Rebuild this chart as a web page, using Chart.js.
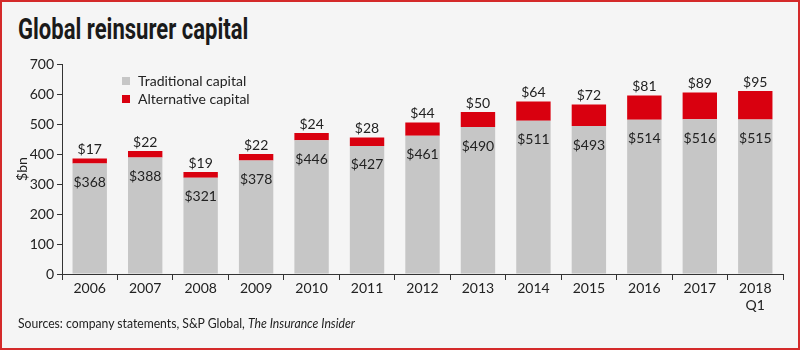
<!DOCTYPE html>
<html lang="en">

<head>
    <meta charset="UTF-8">
    <title>Global reinsurer capital</title>
    <script src="https://cdn.jsdelivr.net/npm/chart.js"></script>
    <style>
        html, body { margin: 0; padding: 0; background: #f5f5f5; }
        #frame {
            position: relative; width: 800px; height: 350px; box-sizing: border-box;
            border: 2px solid #d42a2a; background: #f5f5f5; overflow: hidden;
        }
        #title {
            position: absolute; left: 16px; top: 10px; margin: 0; white-space: nowrap;
            font: bold 29px Roboto, sans-serif; color: #1a1a1a;
            transform: scaleX(0.76); transform-origin: left top;
        }
        #source {
            position: absolute; left: 16px; top: 312px; white-space: nowrap;
            font: 14px Lato, sans-serif; color: #222;
            transform: scaleX(0.87); transform-origin: left top;
        }
        canvas { position: absolute; left: -2px; top: -2px; }
    </style>
</head>

<body>
    <div id="frame">
        <h1 id="title">Global reinsurer capital</h1>
        <canvas id="capitalChart" width="800" height="350"></canvas>
        <div id="source">Sources: company statements, S&amp;P Global, <i>The Insurance Insider</i></div>
    </div>

    <script>
        // values, $bn
        const years = [['2006'], ['2007'], ['2008'], ['2009'], ['2010'], ['2011'], ['2012'],
            ['2013'], ['2014'], ['2015'], ['2016'], ['2017'], ['2018', 'Q1']];
        const traditional = [368, 388, 321, 378, 446, 427, 461, 490, 511, 493, 514, 516, 515];
        const alternative = [17, 22, 19, 22, 24, 28, 44, 50, 64, 72, 81, 89, 95];
        const yTicks = [0, 100, 200, 300, 400, 500, 600, 700];

        const GREY = '#c6c6c6';
        const RED = '#d9000f';
        const FONT = 'Lato, "Open Sans", sans-serif';

        // dollar labels: inside the grey bar, above the red bar
        const barLabels = {
            id: 'barLabels',
            afterDatasetsDraw(chart) {
                const ctx = chart.ctx;
                ctx.save();
                ctx.font = '14px ' + FONT;
                ctx.fillStyle = '#222';
                ctx.textAlign = 'center';
                chart.data.datasets.forEach((ds, i) => {
                    chart.getDatasetMeta(i).data.forEach((bar, j) => {
                        const txt = '$' + ds.data[j];
                        if (i === 0) {
                            ctx.textBaseline = 'top';
                            ctx.fillText(txt, bar.x, bar.y + 12);
                        } else {
                            ctx.textBaseline = 'bottom';
                            ctx.fillText(txt, bar.x, bar.y - 2);
                        }
                    });
                });
                ctx.restore();
            }
        };

        // legend sitting inside the plot, top left
        const innerLegend = {
            id: 'innerLegend',
            afterDraw(chart) {
                const ctx = chart.ctx;
                const x = chart.chartArea.left + 60;
                let y = chart.chartArea.top + 17;
                ctx.save();
                ctx.font = '14px ' + FONT;
                ctx.textBaseline = 'middle';
                chart.data.datasets.forEach(ds => {
                    ctx.fillStyle = ds.backgroundColor;
                    ctx.fillRect(x, y - 4, 8, 8);
                    ctx.fillStyle = '#222';
                    ctx.fillText(ds.label, x + 16, y);
                    y += 18;
                });
                ctx.restore();
            }
        };

        new Chart(document.getElementById('capitalChart'), {
            type: 'bar',
            data: {
                labels: years,
                datasets: [
                    { label: 'Traditional capital', data: traditional, backgroundColor: GREY },
                    { label: 'Alternative capital', data: alternative, backgroundColor: RED }
                ]
            },
            options: {
                responsive: false,
                animation: false,
                layout: { padding: { top: 64, right: 17, bottom: 0, left: 0 } },
                datasets: { bar: { categoryPercentage: 1, barPercentage: 0.62 } },
                plugins: { legend: { display: false }, tooltip: { enabled: false } },
                scales: {
                    x: {
                        stacked: true,
                        afterFit: s => { s.height = 76; },
                        border: { color: '#333', width: 1 },
                        grid: { offset: true, drawOnChartArea: false, tickLength: 6, color: '#333' },
                        ticks: { color: '#222', font: { family: FONT, size: 14 }, padding: 0 }
                    },
                    y: {
                        stacked: true,
                        min: 0, max: 700,
                        afterFit: s => { s.width = 62; },
                        afterBuildTicks: s => { s.ticks = yTicks.map(v => ({ value: v })); },
                        border: { color: '#333', width: 1 },
                        grid: { drawOnChartArea: false, tickLength: 5, color: '#333' },
                        ticks: { color: '#222', font: { family: FONT, size: 14 }, padding: 3 },
                        title: { display: true, text: '$bn', color: '#222', font: { family: FONT, size: 14 }, padding: { top: 14, bottom: 0 } }
                    }
                }
            },
            plugins: [barLabels, innerLegend]
        });
    </script>
</body>

</html>
